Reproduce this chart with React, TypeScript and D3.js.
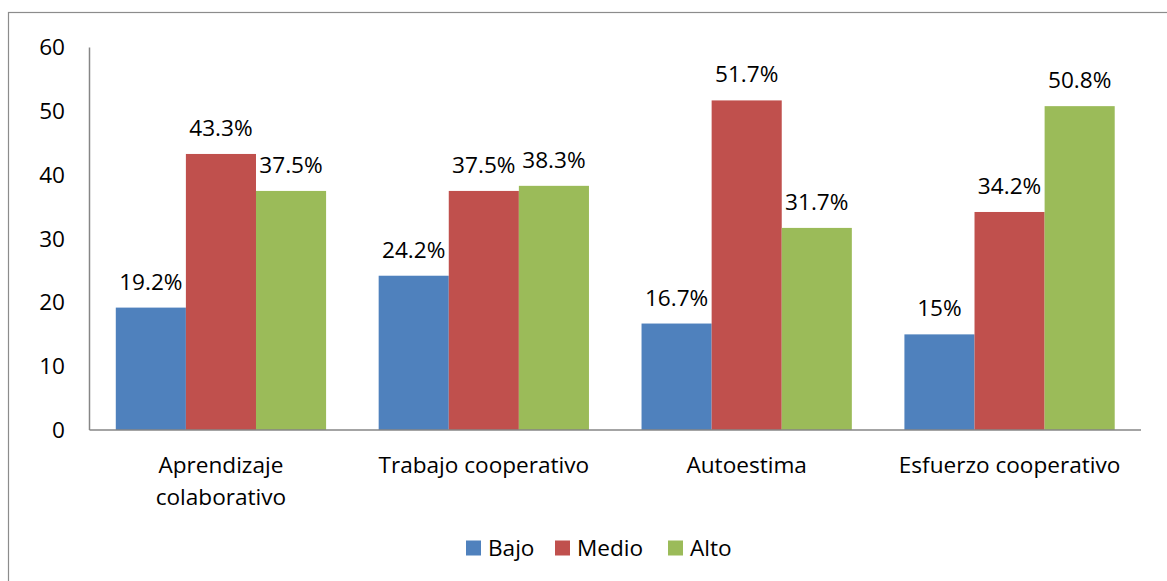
import React, { useEffect, useRef } from "react";
import * as d3 from "d3";

// chart data
const categories = ["Aprendizaje colaborativo", "Trabajo cooperativo", "Autoestima", "Esfuerzo cooperativo"];
const categoryLines = [["Aprendizaje", "colaborativo"], ["Trabajo cooperativo"], ["Autoestima"], ["Esfuerzo cooperativo"]];
const seriesNames = ["Bajo", "Medio", "Alto"];
const bajo = [19.2, 24.2, 16.7, 15];
const medio = [43.3, 37.5, 51.7, 34.2];
const alto = [37.5, 38.3, 31.7, 50.8];
const yTicks = [0, 10, 20, 30, 40, 50, 60];

const COLORS = ["#4F81BD", "#C0504D", "#9BBB59"];
const FONT = "'Open Sans', 'Noto Sans', sans-serif";
const FS = 22.6;

export default function App() {
  const svgRef = useRef<SVGSVGElement>(null);
  const width = 1167;
  const height = 581;

  useEffect(() => {
    if (!svgRef.current) return;
    const svg = d3.select(svgRef.current);
    svg.selectAll("*").remove();

    const series = [bajo, medio, alto];

    // outer frame (runs off the right and bottom edges)
    svg
      .append("rect")
      .attr("x", 8.5)
      .attr("y", 12.5)
      .attr("width", 1200)
      .attr("height", 700)
      .attr("fill", "#fff")
      .attr("stroke", "#8c8c8c")
      .attr("stroke-width", 1.2);

    const x0 = d3
      .scaleBand<string>()
      .domain(categories)
      .range([89.5, 1141])
      .paddingInner(0.2)
      .paddingOuter(0.1);

    const x1 = d3
      .scaleBand<string>()
      .domain(seriesNames)
      .range([0, x0.bandwidth()]);

    const y = d3.scaleLinear().domain([0, 60]).range([430, 47.5]);

    // y tick labels
    svg
      .append("g")
      .selectAll("text")
      .data(yTicks)
      .join("text")
      .attr("x", 65)
      .attr("y", (d) => y(d))
      .attr("dy", "0.35em")
      .attr("text-anchor", "end")
      .attr("font-family", FONT)
      .attr("font-size", FS)
      .attr("fill", "#000")
      .text((d) => d);

    // bars
    const groups = svg
      .append("g")
      .selectAll("g")
      .data(categories)
      .join("g")
      .attr("transform", (d) => `translate(${x0(d)},0)`);

    groups
      .selectAll("rect")
      .data((_, i) => seriesNames.map((s, j) => ({ s, j, v: series[j][i] })))
      .join("rect")
      .attr("x", (d) => x1(d.s)!)
      .attr("y", (d) => y(d.v))
      .attr("width", x1.bandwidth())
      .attr("height", (d) => y(0) - y(d.v))
      .attr("fill", (d) => COLORS[d.j]);

    groups
      .selectAll("text")
      .data((_, i) => seriesNames.map((s, j) => ({ s, j, v: series[j][i] })))
      .join("text")
      .attr("x", (d) => x1(d.s)! + x1.bandwidth() / 2)
      .attr("y", (d) => y(d.v) - 18)
      .attr("text-anchor", "middle")
      .attr("font-family", FONT)
      .attr("font-size", FS)
      .attr("fill", "#000")
      .text((d) => `${d.v}%`);

    // axes lines
    svg
      .append("line")
      .attr("x1", 89.5)
      .attr("x2", 89.5)
      .attr("y1", y(60))
      .attr("y2", y(0))
      .attr("stroke", "#868686")
      .attr("stroke-width", 1.5);
    svg
      .append("line")
      .attr("x1", 89.5)
      .attr("x2", 1141)
      .attr("y1", y(0))
      .attr("y2", y(0))
      .attr("stroke", "#868686")
      .attr("stroke-width", 1.5);

    // category labels
    const catLabels = svg
      .append("g")
      .selectAll("text")
      .data(categories)
      .join("text")
      .attr("x", (d) => x0(d)! + x0.bandwidth() / 2)
      .attr("y", 473)
      .attr("text-anchor", "middle")
      .attr("font-family", FONT)
      .attr("font-size", FS)
      .attr("fill", "#000");
    catLabels
      .selectAll("tspan")
      .data((_, i) => categoryLines[i])
      .join("tspan")
      .attr("x", function () {
        return (this.parentNode as SVGTextElement).getAttribute("x");
      })
      .attr("dy", (_, k) => (k === 0 ? 0 : 32))
      .text((d) => d);

    // legend
    const legendX = [466, 555, 668];
    const legend = svg
      .append("g")
      .selectAll("g")
      .data(seriesNames)
      .join("g")
      .attr("transform", (_, i) => `translate(${legendX[i]},540.5)`);
    legend
      .append("rect")
      .attr("width", 15)
      .attr("height", 15)
      .attr("fill", (_, i) => COLORS[i]);
    legend
      .append("text")
      .attr("x", 22)
      .attr("y", 7.5)
      .attr("dy", "0.35em")
      .attr("font-family", FONT)
      .attr("font-size", FS)
      .attr("fill", "#000")
      .text((d) => d);
  }, []);

  return (
    <svg
      ref={svgRef}
      width={width}
      height={height}
      style={{ position: "absolute", left: 0, top: 0, background: "#fff" }}
    />
  );
}
